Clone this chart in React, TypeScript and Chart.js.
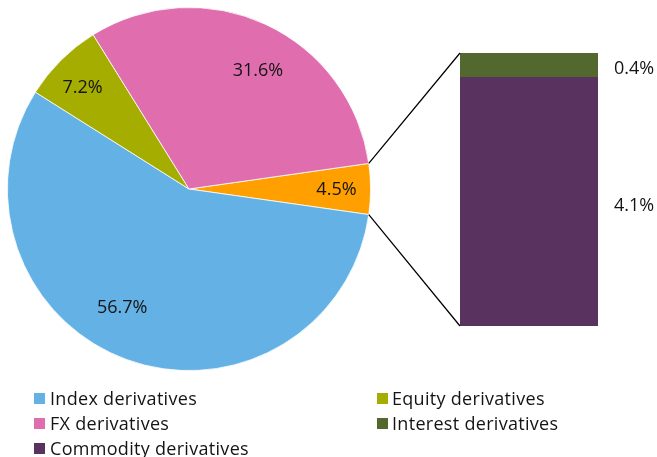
import React, { useEffect, useRef } from 'react';
import { Chart, registerables } from 'chart.js';

Chart.register(...registerables);

// ---- Data ----
const pieCategories = ['Commodity and interest derivatives', 'Index derivatives', 'Equity derivatives', 'FX derivatives'];
const pieValues = [4.5, 56.7, 7.2, 31.6];
const pieColors = ['#FFA000', '#63B1E5', '#A4AD00', '#E06EAE'];

const barCategories = ['Commodity derivatives', 'Interest derivatives'];
const barValues = [4.1, 0.4];
const barColors = ['#5A3260', '#52682E'];

const legendLeft = ['Index derivatives', 'FX derivatives', 'Commodity derivatives'];
const legendRight = ['Equity derivatives', 'Interest derivatives'];
const legendColors: Record<string, string> = {
  'Index derivatives': '#63B1E5',
  'FX derivatives': '#E06EAE',
  'Commodity derivatives': '#5A3260',
  'Equity derivatives': '#A4AD00',
  'Interest derivatives': '#52682E',
};

// ---- Styles ----
const W = 657;
const H = 457;
const FONT_FAMILY = '"Open Sans", "Noto Sans", sans-serif';
const FONT_SIZE = 18;
const TEXT_COLOR = '#141414';
const CAP_OFFSET = FONT_SIZE * 0.357; // baseline offset from cap-center

// label placement per pie slice: angle offset (deg) from mid-angle, radius fraction
const pieLabelPlacement = [
  { da: 0, rf: 0.812 },
  { da: 9.4, rf: 0.745 },
  { da: -1.4, rf: 0.812 },
  { da: 5.0, rf: 0.758 },
];

const fmt = (v: number) => v.toFixed(1) + '%';

export default function App() {
  const pieRef = useRef<HTMLCanvasElement | null>(null);
  const barRef = useRef<HTMLCanvasElement | null>(null);

  useEffect(() => {
    if (!pieRef.current || !barRef.current) return;
    const pieTotal = pieValues.reduce((a, b) => a + b, 0);
    const firstSliceDeg = (pieValues[0] / pieTotal) * 360;

    const pieLabelPlugin = {
      id: 'pieLabels',
      afterDatasetsDraw(chart: any) {
        const ctx = chart.ctx;
        const meta = chart.getDatasetMeta(0);
        ctx.save();
        ctx.font = `${FONT_SIZE}px ${FONT_FAMILY}`;
        ctx.fillStyle = TEXT_COLOR;
        ctx.textAlign = 'center';
        ctx.textBaseline = 'alphabetic';
        meta.data.forEach((arc: any, i: number) => {
          const p = arc.getProps(['x', 'y', 'startAngle', 'endAngle', 'outerRadius'], true);
          const pl = pieLabelPlacement[i];
          const a = (p.startAngle + p.endAngle) / 2 + (pl.da * Math.PI) / 180;
          const r = p.outerRadius * pl.rf;
          ctx.fillText(fmt(pieValues[i]), p.x + Math.cos(a) * r, p.y + Math.sin(a) * r + CAP_OFFSET);
        });
        ctx.restore();
      },
    };

    const pie = new Chart(pieRef.current, {
      type: 'pie',
      data: {
        labels: pieCategories,
        datasets: [
          {
            data: pieValues,
            backgroundColor: pieColors,
            borderColor: '#ffffff',
            borderWidth: 0.8,
          },
        ],
      },
      options: {
        responsive: false,
        animation: false,
        events: [],
        rotation: 90 - firstSliceDeg / 2,
        layout: { padding: { left: 7, top: 7, right: 286, bottom: 86 } },
        plugins: { legend: { display: false }, tooltip: { enabled: false } },
      },
      plugins: [pieLabelPlugin],
    } as any);

    const barTotal = barValues.reduce((a, b) => a + b, 0);

    const barPlugin = {
      id: 'barExtras',
      afterDatasetsDraw(chart: any) {
        const ctx = chart.ctx;
        const n = barValues.length;
        const firstBar = chart.getDatasetMeta(0).data[0].getProps(['x', 'y', 'base', 'width'], true);
        const lastBar = chart.getDatasetMeta(n - 1).data[0].getProps(['x', 'y', 'base', 'width'], true);
        const left = firstBar.x - firstBar.width / 2;
        const right = firstBar.x + firstBar.width / 2;
        const top = Math.min(lastBar.y, lastBar.base);
        const bottom = Math.max(firstBar.y, firstBar.base);

        // connector lines from pie slice edges to bar corners
        const arc = pie.getDatasetMeta(0).data[0] as any;
        const ap = arc.getProps(['x', 'y', 'startAngle', 'endAngle', 'outerRadius'], true);
        ctx.save();
        ctx.strokeStyle = '#000000';
        ctx.lineWidth = 1.25;
        ctx.beginPath();
        ctx.moveTo(ap.x + Math.cos(ap.startAngle) * ap.outerRadius, ap.y + Math.sin(ap.startAngle) * ap.outerRadius);
        ctx.lineTo(left, top);
        ctx.moveTo(ap.x + Math.cos(ap.endAngle) * ap.outerRadius, ap.y + Math.sin(ap.endAngle) * ap.outerRadius);
        ctx.lineTo(left, bottom);
        ctx.stroke();

        // value labels right of bar
        ctx.font = `${FONT_SIZE}px ${FONT_FAMILY}`;
        ctx.fillStyle = TEXT_COLOR;
        ctx.textAlign = 'left';
        ctx.textBaseline = 'alphabetic';
        for (let i = 0; i < n; i++) {
          const b = chart.getDatasetMeta(i).data[0].getProps(['x', 'y', 'base', 'width'], true);
          const cy = (b.y + b.base) / 2 + 2.5;
          ctx.fillText(fmt(barValues[i]), right + 16, cy + CAP_OFFSET);
        }
        ctx.restore();
      },
    };

    const bar = new Chart(barRef.current, {
      type: 'bar',
      data: {
        labels: ['Commodity and interest derivatives'],
        datasets: barValues.map((v, i) => ({
          label: barCategories[i],
          data: [v],
          backgroundColor: barColors[i],
          borderWidth: 0,
          categoryPercentage: 1,
          barPercentage: 1,
        })),
      },
      options: {
        responsive: false,
        animation: false,
        events: [],
        layout: { padding: { left: 460, right: 59, top: 53, bottom: 131 } },
        scales: {
          x: { display: false, stacked: true },
          y: { display: false, stacked: true, min: 0, max: barTotal },
        },
        plugins: { legend: { display: false }, tooltip: { enabled: false } },
      },
      plugins: [barPlugin],
    } as any);

    return () => {
      bar.destroy();
      pie.destroy();
    };
  }, []);

  const rowTop = 385.6;
  const rowPitch = 25;
  const renderLegend = (items: string[], markerX: number, textX: number) =>
    items.map((name, i) => (
      <React.Fragment key={name}>
        <div
          style={{
            position: 'absolute',
            left: markerX,
            top: rowTop + i * rowPitch + 7.6,
            width: 11,
            height: 11,
            background: legendColors[name],
          }}
        />
        <div
          style={{
            position: 'absolute',
            left: textX,
            top: rowTop + i * rowPitch,
            height: rowPitch,
            lineHeight: `${rowPitch}px`,
            fontSize: FONT_SIZE,
            fontFamily: FONT_FAMILY,
            letterSpacing: '0.3px',
            color: TEXT_COLOR,
            whiteSpace: 'nowrap',
          }}
        >
          {name}
        </div>
      </React.Fragment>
    ));

  return (
    <div style={{ position: 'fixed', left: 0, top: 0, width: W, height: H, background: '#ffffff', overflow: 'hidden' }}>
      <canvas ref={pieRef} width={W} height={H} style={{ position: 'absolute', left: 0, top: 0, width: W, height: H }} />
      <canvas ref={barRef} width={W} height={H} style={{ position: 'absolute', left: 0, top: 0, width: W, height: H }} />
      {renderLegend(legendLeft, 34, 50)}
      {renderLegend(legendRight, 377, 392)}
    </div>
  );
}
